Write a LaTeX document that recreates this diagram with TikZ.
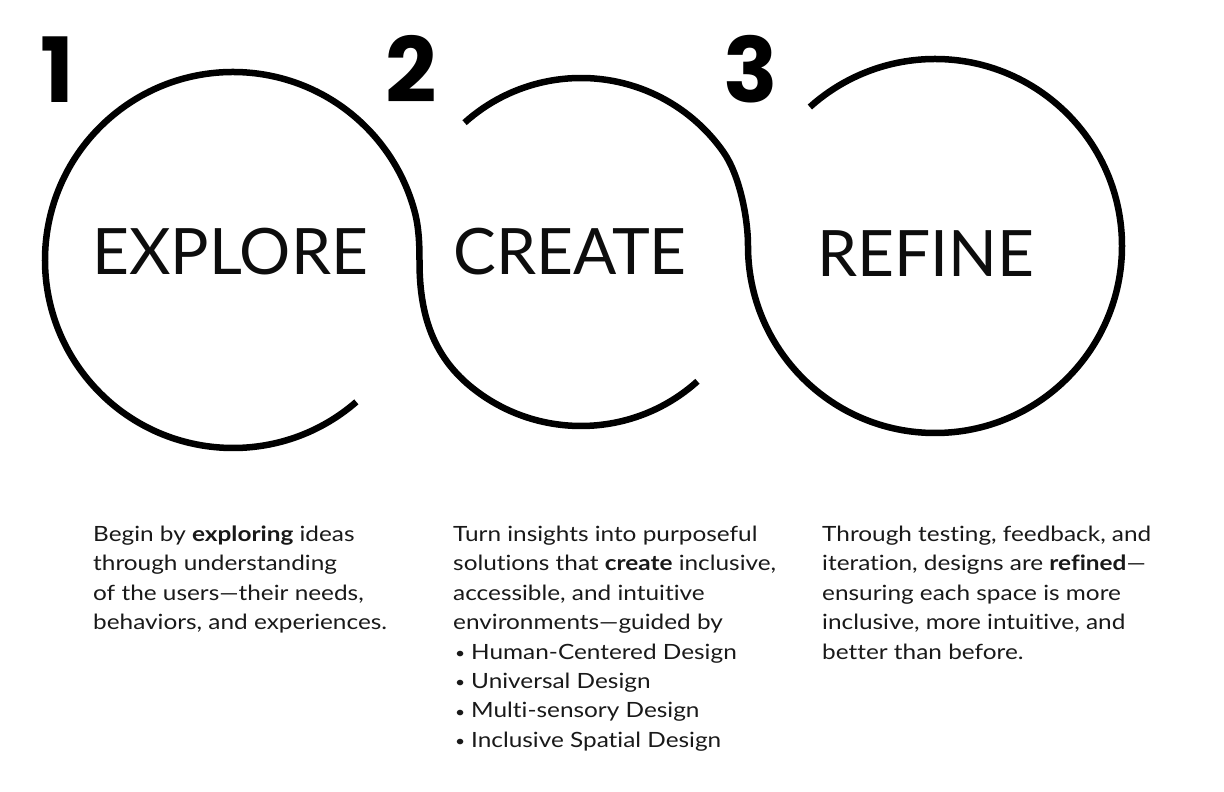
\documentclass[tikz,border=0pt]{standalone}
\usepackage{fontspec}
\setmainfont{Lato}[Ligatures=NoCommon]
\newfontfamily\bodyfont{Lato}[FakeStretch=1.16, Ligatures=NoCommon]
\newfontfamily\numfont{Poppins}
\usetikzlibrary{calc}
\newcommand{\blt}{\makebox[18pt][l]{\hspace{2pt}\raisebox{0.5pt}{\fontsize{15}{15}\selectfont •}}}
\begin{document}
\begin{tikzpicture}[x=1pt,y=1pt,
  curve/.style={line width=6.5pt, black},
  num/.style={anchor=base, inner sep=0pt, font=\numfont\bfseries\fontsize{90}{90}\selectfont},
  label/.style={anchor=base, inner sep=0pt, text=black!95, font=\fontsize{64}{64}\selectfont},
  body/.style={anchor=base west, inner sep=0pt, text=black!90, font=\bodyfont\fontsize{21}{29.4}\selectfont}]
\useasboundingbox (0,0) rectangle (1224,792);
\coordinate (c1) at (233,532);
\coordinate (c2) at (581,540);
\coordinate (c3) at (935,546);
% path A: circle 1 into lower part of circle 2
\draw[curve] ($(c1)+(-49:188)$) arc[start angle=-49, end angle=-345, radius=188]
  .. controls (419,564.3) and (419.5,547) .. (419.5,530)
  .. controls (419.5,475) and (434.5,436) .. ($(c2)+(-130:174)$)
  arc[start angle=-130, end angle=-48, radius=174];
% path B: upper part of circle 2 into circle 3
\draw[curve] ($(c2)+(132:174)$) arc[start angle=132, end angle=35, radius=174]
  .. controls (739.6,616.9) and (748,574) .. ($(c3)+(180:187)$)
  arc[start angle=180, end angle=492, radius=187];
% numbers
\node[num] (n1) at (57,689) {1};
\node[num] (n2) at (411,689) {2};
\node[num] (n3) at (751,689) {3};
% labels
\node[label] (l1) at (230,517) {EXPLORE};
\node[label] (l2) at (570,517) {CREATE};
\node[label] (l3) at (926,515) {REFINE};
% block 1
\node[body] (a1) at (93,250.5) {Begin by \textbf{exploring} ideas};
\node[body] (a2) at (93,221.1) {through understanding};
\node[body] (a3) at (93,191.7) {of the users—their needs,};
\node[body] (a4) at (93,162.3) {behaviors, and experiences.};
% block 2
\node[body] (b1) at (453,250.5) {Turn insights into purposeful};
\node[body] (b2) at (453,221.1) {solutions that \textbf{create} inclusive,};
\node[body] (b3) at (453,191.7) {accessible, and intuitive};
\node[body] (b4) at (453,162.3) {environments—guided by};
\node[body] (b5) at (453,132.9) {\blt Human-Centered Design};
\node[body] (b6) at (453,103.5) {\blt Universal Design};
\node[body] (b7) at (453,74.1) {\blt Multi-sensory Design};
\node[body] (b8) at (453,44.7) {\blt Inclusive Spatial Design};
% block 3
\node[body] (d1) at (822,250.5) {Through testing, feedback, and};
\node[body] (d2) at (822,221.1) {iteration, designs are \textbf{refined}—};
\node[body] (d3) at (822,191.7) {ensuring each space is more};
\node[body] (d4) at (822,162.3) {inclusive, more intuitive, and};
\node[body] (d5) at (822,132.9) {better than before.};
\end{tikzpicture}
\end{document}
